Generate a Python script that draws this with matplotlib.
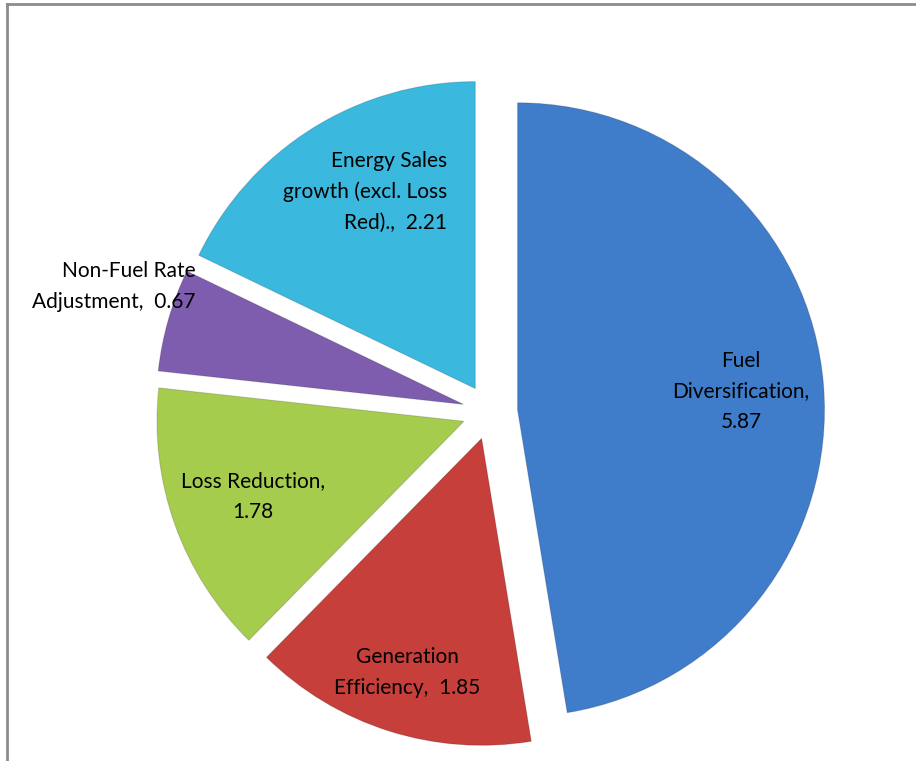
import numpy as np
import matplotlib
matplotlib.use("Agg")
import matplotlib.pyplot as plt
from matplotlib.lines import Line2D

# slices, clockwise from the top
labels = ["Fuel\nDiversification,\n5.87",
          "Generation\nEfficiency,  1.85",
          "Loss Reduction,\n1.78",
          "Non-Fuel Rate\nAdjustment,  0.67",
          "Energy Sales\ngrowth (excl. Loss\nRed).,  2.21"]
values = [5.87, 1.85, 1.78, 0.67, 2.21]
colors = ["#3F7DCB", "#C63F3A", "#A6CC4E", "#7E5DAE", "#3AB8DD"]

# where each label sits (fraction of radius from the slice tip) and its alignment
label_dist = [0.73, 0.80, 0.73, 1.21, 0.71]
label_ha = ["center", "center", "center", "right", "right"]
label_dx = [0.0, 0.0, 0.0, 0.29, 0.285]
label_dy = [0.0, 0.0, 0.0, 0.05, 0.04]

W, H = 916, 761
cx, cy, rpx = 490, 412, 307   # pie centre / radius in pixels

fig = plt.figure(figsize=(W / 100, H / 100), dpi=100)
ax = fig.add_axes([0, 0, 1, 1])

wedges, _ = ax.pie(values, colors=colors, startangle=90, counterclock=False,
                   explode=[0.09] * len(values), radius=1.0,
                   wedgeprops=dict(linewidth=0.8, edgecolor=(0, 0, 0, 0.15)))

ax.set_aspect("equal", adjustable="box")
ax.set_xlim(-cx / rpx, (W - cx) / rpx)
ax.set_ylim(-(H - cy) / rpx, cy / rpx)
ax.axis("off")

for w, lab, d, ha, dx, dy in zip(wedges, labels, label_dist, label_ha, label_dx, label_dy):
    mid = np.deg2rad((w.theta1 + w.theta2) / 2)
    x = w.center[0] + d * np.cos(mid) + dx
    y = w.center[1] + d * np.sin(mid) + dy
    ax.text(x, y, lab, ha=ha, va="center", fontsize=15, family="Lato",
            linespacing=1.65, color="black")

# grey frame (top and left edges visible)
fig.add_artist(Line2D([6.5 / W, 6.5 / W], [0, 1 - 3.5 / H], color="#8c8c8c", lw=2,
                      transform=fig.transFigure))
fig.add_artist(Line2D([6.5 / W, 1], [1 - 3.5 / H, 1 - 3.5 / H], color="#8c8c8c", lw=2,
                      transform=fig.transFigure))

fig.savefig("out.png", dpi=100, facecolor="white")
